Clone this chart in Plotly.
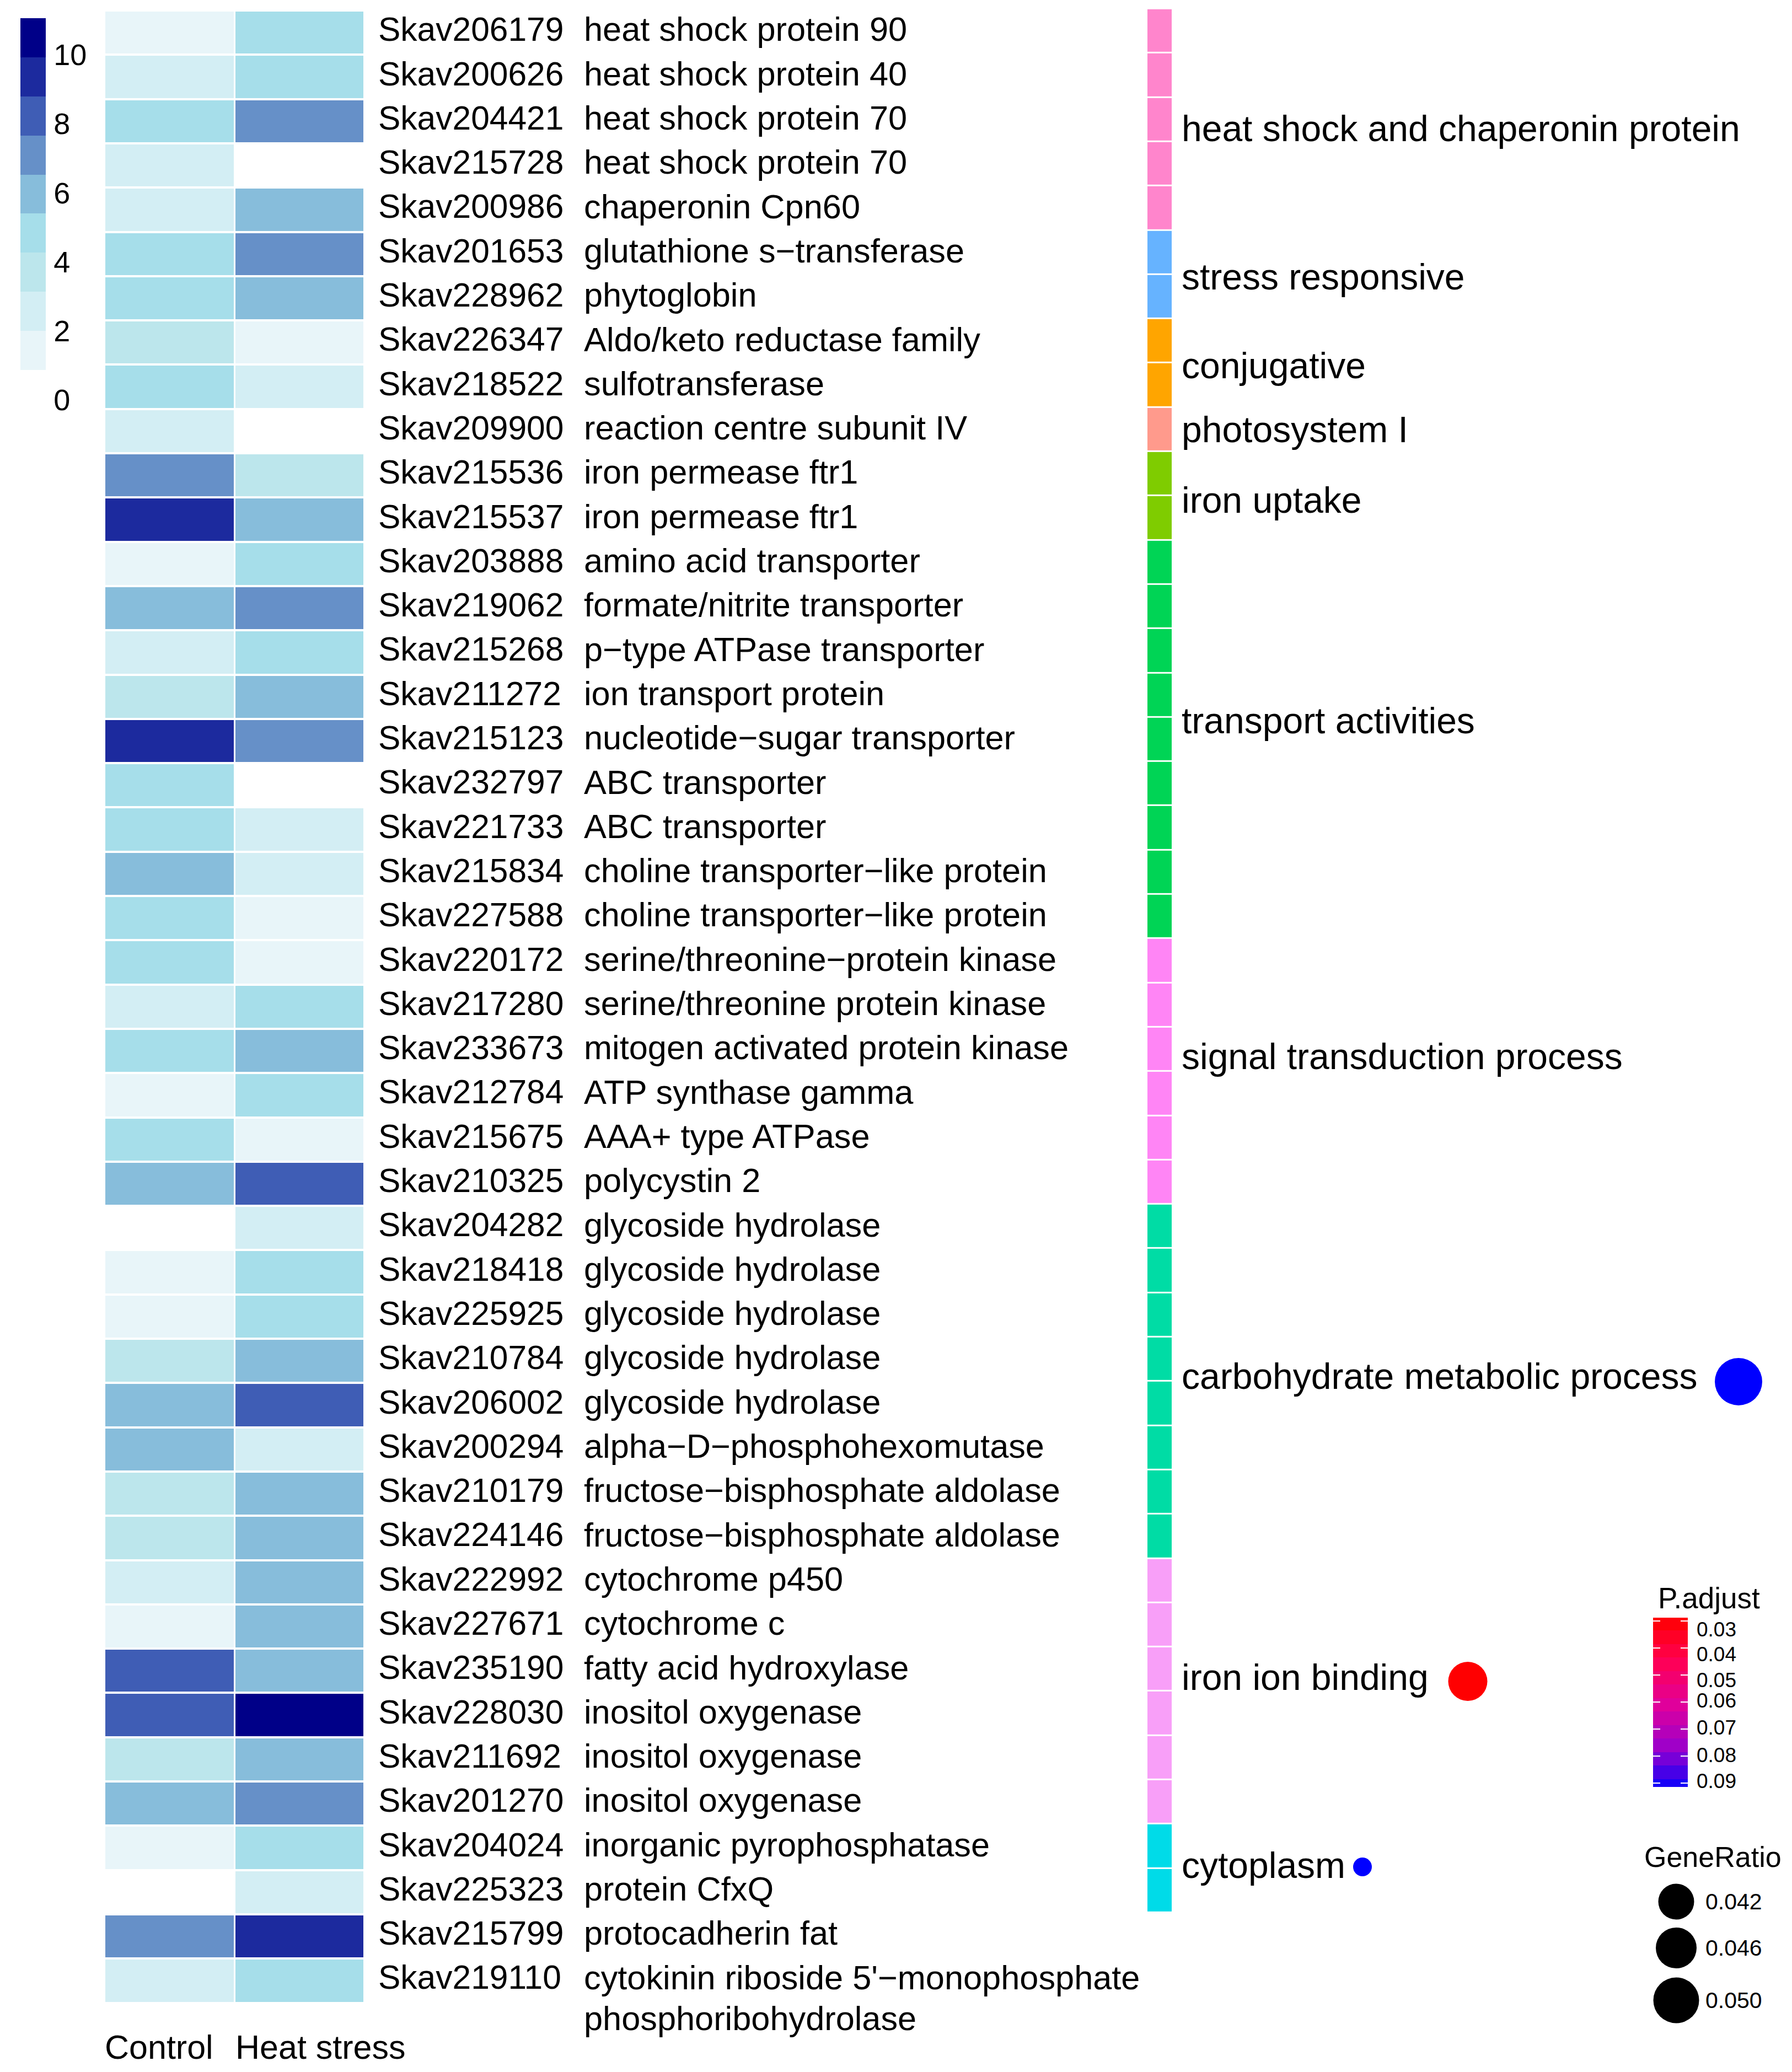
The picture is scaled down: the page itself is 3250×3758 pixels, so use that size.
import plotly.graph_objects as go

W, H = 3250, 3758
FONT = "Liberation Sans"

gene_ids = ["Skav206179", "Skav200626", "Skav204421", "Skav215728", "Skav200986", "Skav201653", "Skav228962", "Skav226347", "Skav218522",
            "Skav209900", "Skav215536", "Skav215537", "Skav203888", "Skav219062", "Skav215268", "Skav211272", "Skav215123", "Skav232797",
            "Skav221733", "Skav215834", "Skav227588", "Skav220172", "Skav217280", "Skav233673", "Skav212784", "Skav215675", "Skav210325",
            "Skav204282", "Skav218418", "Skav225925", "Skav210784", "Skav206002", "Skav200294", "Skav210179", "Skav224146", "Skav222992",
            "Skav227671", "Skav235190", "Skav228030", "Skav211692", "Skav201270", "Skav204024", "Skav225323", "Skav215799", "Skav219110"]
gene_names = ["heat shock protein 90", "heat shock protein 40", "heat shock protein 70", "heat shock protein 70", "chaperonin Cpn60",
              "glutathione s\u2212transferase", "phytoglobin", "Aldo/keto reductase family", "sulfotransferase", "reaction centre subunit IV",
              "iron permease ftr1", "iron permease ftr1", "amino acid transporter", "formate/nitrite transporter", "p\u2212type ATPase transporter",
              "ion transport protein", "nucleotide\u2212sugar transporter", "ABC transporter", "ABC transporter", "choline transporter\u2212like protein",
              "choline transporter\u2212like protein", "serine/threonine\u2212protein kinase", "serine/threonine protein kinase",
              "mitogen activated protein kinase", "ATP synthase gamma", "AAA+ type ATPase", "polycystin 2", "glycoside hydrolase",
              "glycoside hydrolase", "glycoside hydrolase", "glycoside hydrolase", "glycoside hydrolase", "alpha\u2212D\u2212phosphohexomutase",
              "fructose\u2212bisphosphate aldolase", "fructose\u2212bisphosphate aldolase", "cytochrome p450", "cytochrome c", "fatty acid hydroxylase",
              "inositol oxygenase", "inositol oxygenase", "inositol oxygenase", "inorganic pyrophosphatase", "protein CfxQ", "protocadherin fat",
              "cytokinin riboside 5'\u2212monophosphate"]
control = [1.4, 2.6, 4.8, 2.6, 2.6, 4.8, 4.8, 3.7, 4.8, 2.6, 7.1, 9.4, 1.4, 6.0, 2.6, 3.7, 9.4, 4.8, 4.8, 6.0, 4.8, 4.8, 2.6, 4.8, 1.4, 4.8, 6.0,
           0, 1.4, 1.4, 3.7, 6.0, 6.0, 3.7, 3.7, 2.6, 1.4, 8.2, 8.2, 3.7, 6.0, 1.4, 0, 7.1, 2.6]
heat = [4.8, 4.8, 7.1, 0, 6.0, 7.1, 6.0, 1.4, 2.6, 0, 3.7, 6.0, 4.8, 7.1, 4.8, 6.0, 7.1, 0, 2.6, 2.6, 1.4, 1.4, 4.8, 6.0, 4.8, 1.4, 8.2,
        2.6, 4.8, 4.8, 6.0, 8.2, 2.6, 6.0, 6.0, 6.0, 6.0, 6.0, 10.5, 6.0, 7.1, 4.8, 2.6, 9.4, 4.8]
conditions = ["Control", "Heat stress"]

categories = ["heat shock and chaperonin protein", "stress responsive", "conjugative", "photosystem I", "iron uptake",
              "transport activities", "signal transduction process", "carbohydrate metabolic process", "iron ion binding", "cytoplasm"]
category_counts = [5, 2, 2, 1, 2, 9, 6, 8, 6, 2]
category_colors = ["#ff85cc", "#66b3ff", "#ffa500", "#ff9a8c", "#7fcc00", "#00d455", "#ff85f5", "#00dca5", "#f89ff8", "#00dbe8"]
category_label_rows = [2.24, 5.6, 7.6, 9.04, 10.64, 15.62, 23.2, 30.43, 37.23, 41.48]

enriched = ["carbohydrate metabolic process", "iron ion binding", "cytoplasm"]
enriched_rows = [30.47, 37.24, 41.43]
enriched_x = [3153, 2662, 2471]
enriched_padj = [0.0935, 0.029, 0.0935]
enriched_size = [86, 71, 34]

key_colors = ["#ffffff", "#e8f5f9", "#d3eef4", "#bce6ec", "#a6deea", "#87bddb", "#6690c8", "#3f5db5", "#1c2a9e", "#000088"]
padj_bands = [0.031, 0.036, 0.041, 0.046, 0.051, 0.056, 0.061, 0.066, 0.071, 0.076, 0.081, 0.086, 0.091]
padj_ticks = [0.03, 0.04, 0.05, 0.06, 0.07, 0.08, 0.09]
padj_label_pos = [0.0339, 0.0430, 0.0526, 0.0602, 0.0702, 0.0804, 0.0900]
ratio_labels = ["0.042", "0.046", "0.050"]
ratio_size = [65, 74, 83]
ratio_y = [3449, 3533, 3628]


def xdom(a, b):
    return [a / W, b / W]


def ydom(a, b):
    return [1 - b / H, 1 - a / H]


def label_font(size):
    return dict(family=FONT, size=size, color="black")


# rows are laid out on one y axis spanning the full page
TOP, PITCH = 19, 80.3
row_top = -0.5 - TOP / PITCH
row_bottom = row_top + H / PITCH
rows = list(range(len(gene_ids)))

# discrete scale for the expression heatmap, first band is white
zmin, zmax = -0.27, 11.06
scale = []
for i, c in enumerate(key_colors):
    scale += [[i / len(key_colors), c], [(i + 1) / len(key_colors), c]]

cat_z = []
for i, n in enumerate(category_counts):
    cat_z += [[i]] * n
cat_scale = []
for i, c in enumerate(category_colors):
    cat_scale += [[i / len(category_colors), c], [(i + 1) / len(category_colors), c]]

fig = go.Figure()

fig.add_trace(go.Heatmap(z=[[c, h] for c, h in zip(control, heat)], x=conditions, y=rows,
                         coloraxis="coloraxis", xgap=3, ygap=4, xaxis="x", yaxis="y", hoverongaps=False))
# side bar sits a touch higher than the heatmap
fig.add_trace(go.Heatmap(z=cat_z, x=[0], y=[r - 0.04 for r in range(len(cat_z))], colorscale=cat_scale, zmin=-0.5,
                         zmax=len(categories) - 0.5, showscale=False, ygap=3, xaxis="x2", yaxis="y"))
fig.add_trace(go.Heatmap(z=[[v] for v in padj_bands], x=[0], y=padj_bands, coloraxis="coloraxis2", xaxis="x4", yaxis="y4"))

# gene ids and names
fig.add_trace(go.Scatter(x=[686] * len(gene_ids), y=rows, text=gene_ids, mode="text", textposition="middle right",
                         textfont=label_font(60.5), xaxis="x3", yaxis="y", showlegend=False))
fig.add_trace(go.Scatter(x=[1059] * len(gene_names), y=rows, text=gene_names, mode="text", textposition="middle right",
                         textfont=label_font(61.3), xaxis="x3", yaxis="y", showlegend=False))
fig.add_trace(go.Scatter(x=[1059], y=[44.92], text=["phosphoribohydrolase"], mode="text", textposition="middle right",
                         textfont=label_font(61.3), xaxis="x3", yaxis="y", showlegend=False))
# condition names under the columns
fig.add_trace(go.Scatter(x=[190, 427], y=[45.57, 45.57], text=conditions, mode="text", textposition="middle right",
                         textfont=label_font(61), xaxis="x3", yaxis="y", showlegend=False))
# category labels
fig.add_trace(go.Scatter(x=[2143] * len(categories), y=category_label_rows, text=categories, mode="text",
                         textposition="middle right", textfont=label_font(66), xaxis="x3", yaxis="y", showlegend=False))
# enrichment dots
fig.add_trace(go.Scatter(x=enriched_x, y=enriched_rows, mode="markers", text=enriched,
                         marker=dict(size=enriched_size, color=enriched_padj, coloraxis="coloraxis2", opacity=1, line=dict(width=0)),
                         xaxis="x3", yaxis="y", showlegend=False))
# P.adjust labels
fig.add_trace(go.Scatter(x=[3077] * len(padj_ticks), y=padj_label_pos, text=["%.2f" % t for t in padj_ticks], mode="text",
                         textposition="middle right", textfont=label_font(37), xaxis="x3", yaxis="y4", showlegend=False, cliponaxis=False))
# GeneRatio legend
fig.add_trace(go.Scatter(x=[3040] * 3, y=ratio_y, mode="markers",
                         marker=dict(size=ratio_size, color="black", opacity=1, line=dict(width=0)),
                         xaxis="x3", yaxis="y3", showlegend=False))
fig.add_trace(go.Scatter(x=[3093] * 3, y=[v + 4 for v in ratio_y], mode="text", text=ratio_labels, textposition="middle right",
                         textfont=label_font(41), xaxis="x3", yaxis="y3", showlegend=False))

hidden = dict(visible=False, fixedrange=True)
fig.update_layout(
    width=W, height=H, autosize=False, margin=dict(l=0, r=0, t=0, b=0, pad=0),
    paper_bgcolor="white", plot_bgcolor="rgba(0,0,0,0)", showlegend=False, font=dict(family=FONT, color="black"),
    xaxis=dict(domain=xdom(190, 661), showticklabels=False, ticks="", showgrid=False, zeroline=False, showline=False, anchor="y"),
    xaxis2=dict(hidden, domain=xdom(2081, 2125), anchor="y"),
    xaxis3=dict(hidden, domain=[0, 1], range=[0, W], anchor="y3"),
    xaxis4=dict(hidden, domain=xdom(2998, 3061), anchor="y4"),
    yaxis=dict(domain=[0, 1], range=[row_bottom, row_top], showticklabels=False, ticks="",
               showgrid=False, zeroline=False, showline=False, anchor="x", automargin=False),
    yaxis3=dict(hidden, domain=[0, 1], range=[H, 0], anchor="x3"),
    yaxis4=dict(domain=ydom(2934, 3241), range=[0.0914, 0.0288], anchor="x4", side="right", tickmode="array", tickvals=padj_ticks,
                ticktext=[""] * len(padj_ticks), ticks="inside", ticklen=13, tickwidth=2, tickcolor="white", mirror="ticks",
                showgrid=False, zeroline=False, showline=False, automargin=False),
    coloraxis=dict(colorscale=scale, cmin=zmin, cmax=zmax,
                   colorbar=dict(x=37 / W, xanchor="left", y=1 - 33 / H, yanchor="top", len=709 / H, lenmode="fraction",
                                 thickness=46, thicknessmode="pixels", xpad=0, ypad=0, outlinewidth=0, tickmode="array",
                                 tickvals=[0, 2, 4, 6, 8, 10], ticks="outside", ticklen=4, tickcolor="white",
                                 tickfont=label_font(54))),
    coloraxis2=dict(colorscale=[[0, "#ff0000"], [0.25, "#ff0055"], [0.5, "#e0009c"], [0.75, "#9a00cc"], [1, "#0000ff"]],
                    cmin=0.0288, cmax=0.0935, showscale=False),
    annotations=[
        dict(text="P.adjust", x=3099 / W, y=1 - 2898 / H, xref="paper", yref="paper", showarrow=False, xanchor="center", yanchor="middle",
             font=label_font(53)),
        dict(text="GeneRatio", x=3106 / W, y=1 - 3368 / H, xref="paper", yref="paper", showarrow=False, xanchor="center", yanchor="middle",
             font=label_font(52)),
    ],
)

fig.write_html("out.html", config={"displayModeBar": False}, post_script="document.body.style.margin='0';")
